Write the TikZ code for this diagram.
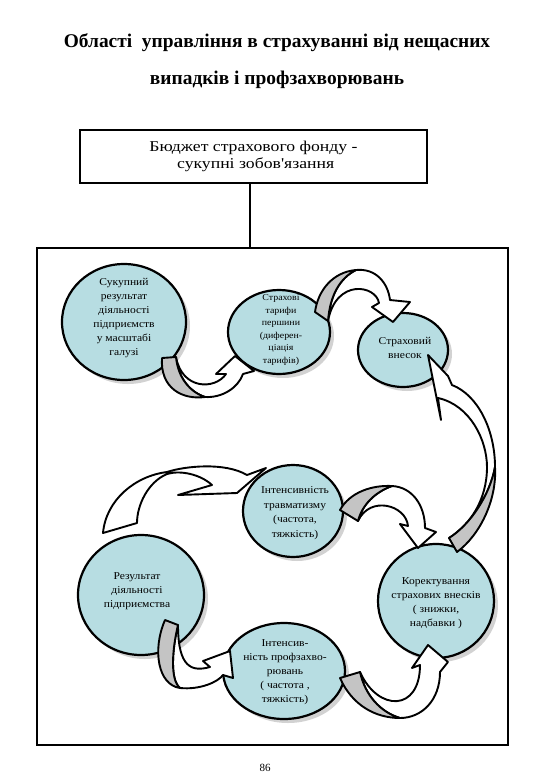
\documentclass[tikz,border=0pt]{standalone}
\usepackage{fontspec}
\setmainfont{Liberation Serif}
\newfontfamily\circfont[FakeStretch=1.1]{Liberation Serif}
\newfontfamily\boxfont[FakeStretch=1.18]{Liberation Serif}
\usetikzlibrary{shapes.geometric,shadows}
\definecolor{cblue}{RGB}{183,221,226}
\definecolor{agray}{RGB}{196,196,196}
\begin{document}
\begin{tikzpicture}[x=1pt,y=-1pt,
  circ/.style={ellipse,draw=black,line width=2.2pt,fill=cblue,inner sep=0pt,
    drop shadow={shadow xshift=4pt,shadow yshift=-4pt,fill=black!35}},
  ctext/.style={align=center,font=\circfont\fontsize{10.5}{14}\selectfont,inner sep=0pt},
  arrw/.style={draw=black,line width=1.9pt,fill=white,line join=round},
  arrg/.style={draw=black,line width=1.9pt,fill=agray,line join=round}]
\useasboundingbox[fill=white] (0,0) rectangle (540,780);

% title
\node[font=\bfseries\fontsize{19.4}{22}\selectfont,inner sep=0pt] (title1) at (277,43) {Області\ \ управління в страхуванні від нещасних};
\node[font=\bfseries\fontsize{19.4}{22}\selectfont,inner sep=0pt] (title2) at (277,80) {випадків і профзахворювань};

% budget box
\node[draw=black,line width=2pt,minimum width=347pt,minimum height=53pt,inner sep=0pt,
  align=center,font=\boxfont\fontsize{15}{17}\selectfont] (box) at (253.5,156.5)
  {Бюджет страхового фонду -\\ \ сукупні зобов'язання};
% frame
\node[draw=black,line width=2pt,minimum width=471pt,minimum height=497pt,inner sep=0pt] (frame) at (272.5,496.5) {};
\coordinate (ltop) at (250,183);
\draw[line width=2pt] (ltop) -- (ltop |- frame.north);

% circles
\node[circ,minimum width=124pt,minimum height=116pt] (c1) at (124,322) {};
\node[circ,minimum width=102pt,minimum height=84pt] (c2) at (279,332) {};
\node[circ,minimum width=90pt,minimum height=74pt] (c3) at (403,350) {};
\node[circ,minimum width=100pt,minimum height=92pt] (c4) at (293,511) {};
\node[circ,minimum width=126pt,minimum height=120pt] (c5) at (141,595) {};
\node[circ,minimum width=116pt,minimum height=114pt] (c6) at (436,601) {};
\node[circ,minimum width=122pt,minimum height=96pt] (c7) at (284,671) {};

% texts
\node[ctext] (t1) at (124,318) {Сукупний\\результат\\діяльності\\підприємств\\у масштабі\\галузі};
\node[ctext,font=\circfont\fontsize{9}{12.5}\selectfont] (t2) at (281,330) {Страхові\\тарифи\\першини\\(диферен-\\ціація\\тарифів)};
\node[ctext] (t3) at (405,348) {Страховий\\внесок};
\node[ctext,font=\circfont\fontsize{10.5}{14.5}\selectfont] (t4) at (295,513) {Інтенсивність\\травматизму\\(частота,\\тяжкість)};
\node[ctext] (t5) at (137,591) {Результат\\діяльності\\підприємства};
\node[ctext] (t6) at (436,603) {Коректування\\страхових внесків\\( знижки,\\надбавки )};
\node[ctext] (t7) at (285,672) {Інтенсив-\\ність профзахво-\\рювань\\( частота ,\\тяжкість)};

% arrow A : c1 -> c2
\draw[arrw] (205,397) .. controls (222,398) and (238,388) .. (243,374) -- (254,371) -- (235,356) -- (216,374) -- (226,374)
  .. controls (215,390) and (182,390) .. (176,357) .. controls (178,378) and (190,392) .. (205,397) -- cycle;
\draw[arrg] (162,358) .. controls (160,388) and (182,400) .. (205,397) .. controls (190,392) and (178,378) .. (176,357) -- cycle;

% arrow B : c2 -> c3
\draw[arrw] (356,270) .. controls (376,268) and (388,283) .. (390,300) -- (410,302) -- (393,322) -- (372,307) -- (379,303)
  .. controls (376,285) and (336,278) .. (328,321) .. controls (330,295) and (340,278) .. (356,270) -- cycle;
\draw[arrg] (315,312) .. controls (318,290) and (333,272) .. (356,270) .. controls (340,278) and (330,295) .. (328,321) -- cycle;

% arrow C : c6 -> c3
\draw[arrw] (495,467) .. controls (495,430) and (478,395) .. (452,385) -- (448,376) -- (428,355) -- (441,420) -- (438,398)
  .. controls (470,405) and (487,440) .. (487,467) .. controls (487,500) and (470,525) .. (449,538)
  .. controls (470,525) and (490,495) .. (495,467) -- cycle;
\draw[arrg] (457,552) .. controls (480,535) and (497,500) .. (495,467) .. controls (490,495) and (470,525) .. (449,538) -- cycle;

% arrow D : c4 -> c6
\draw[arrw] (392,486) .. controls (412,487) and (425,505) .. (425,528) -- (436,532) -- (418,548) -- (400,524) -- (408,526)
  .. controls (406,505) and (370,495) .. (358,521) .. controls (362,505) and (375,492) .. (392,486) -- cycle;
\draw[arrg] (340,510) .. controls (350,492) and (372,485) .. (392,486) .. controls (375,492) and (362,505) .. (358,521) -- cycle;

% arrow E : c5 -> c4
\draw[arrw] (103,533) .. controls (106,500) and (135,476) .. (167,472) .. controls (185,466) and (225,462) .. (247,475)
  -- (266,468) -- (237,493) -- (178,495) -- (212,485) .. controls (200,474) and (180,470) .. (167,474)
  .. controls (148,482) and (137,505) .. (137,523) -- cycle;

% arrow F : c5 -> c7
\draw[arrw] (180,688) .. controls (200,690) and (218,682) .. (223,675) -- (233,678) -- (230,651) -- (203,661) -- (210,667)
  .. controls (192,672) and (178,668) .. (178,625) .. controls (172,650) and (170,680) .. (180,688) -- cycle;
\draw[arrg] (165,620) .. controls (152,650) and (158,685) .. (180,688) .. controls (170,680) and (172,650) .. (178,625) -- cycle;

% arrow G : c7 -> c6
\draw[arrw] (400,718) .. controls (422,718) and (440,700) .. (440,672) -- (448,662) -- (428,645) -- (412,668) -- (420,665)
  .. controls (420,712) and (378,712) .. (360,672) .. controls (365,695) and (380,712) .. (400,718) -- cycle;
\draw[arrg] (340,678) .. controls (352,705) and (375,718) .. (400,718) .. controls (380,712) and (365,695) .. (360,672) -- cycle;

% page number
\node[font=\fontsize{11}{13}\selectfont,inner sep=0pt] (pnum) at (265,768) {86};
\end{tikzpicture}
\end{document}
